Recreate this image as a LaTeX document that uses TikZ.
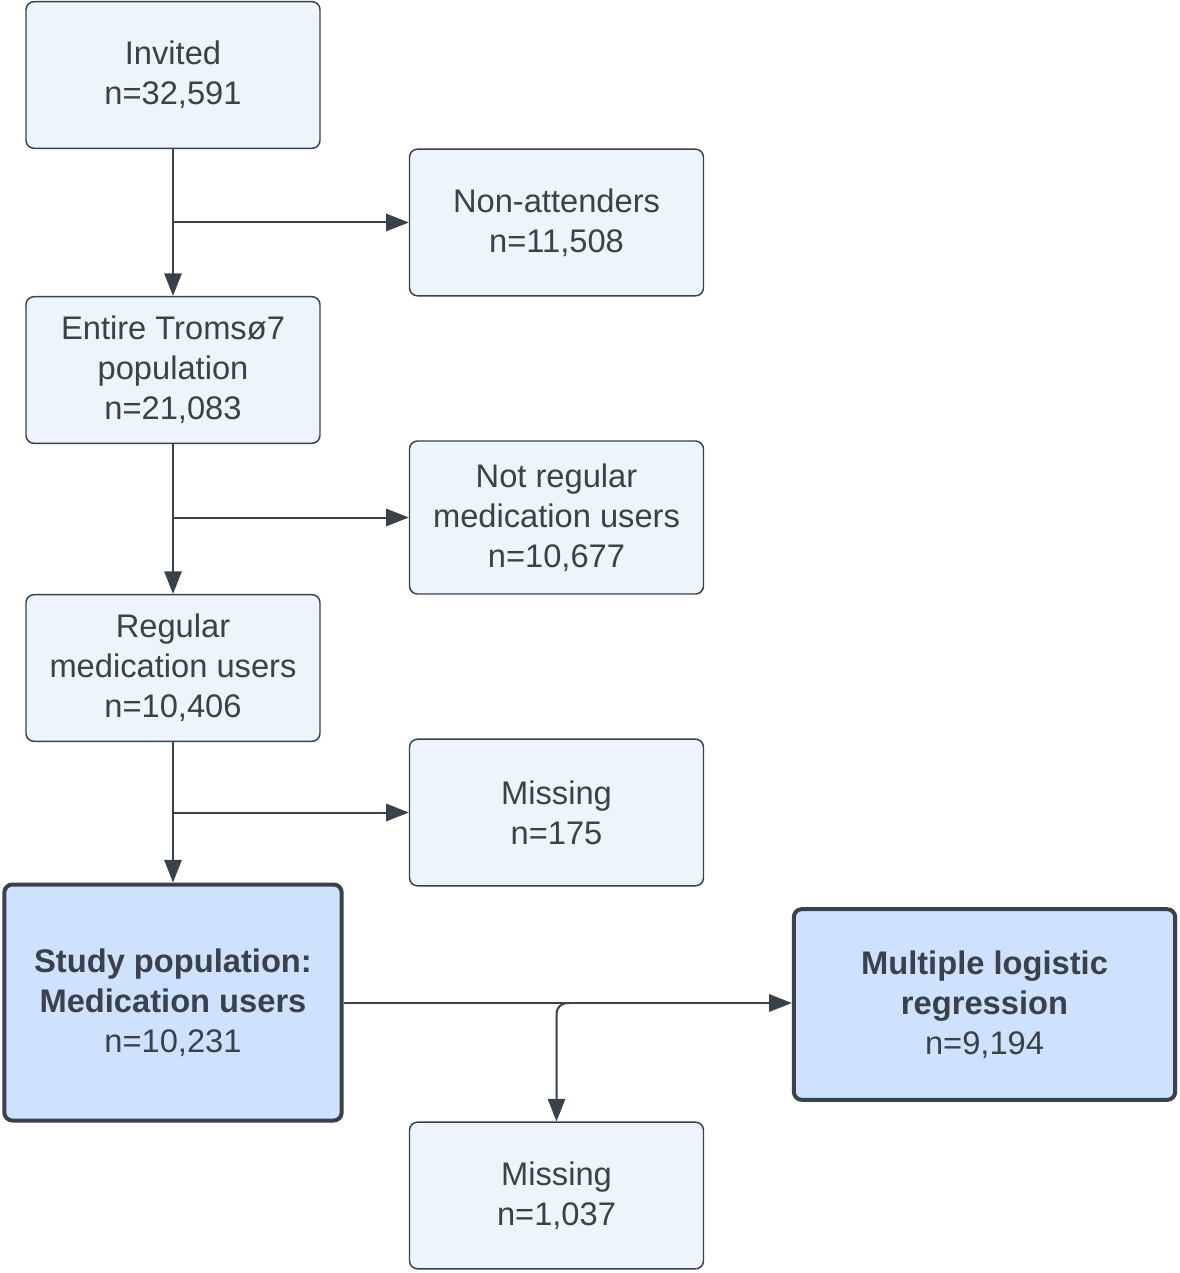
\documentclass[tikz,border=0pt]{standalone}
\usepackage{fontspec}
\setmainfont{Liberation Sans}
\usetikzlibrary{arrows.meta}
\definecolor{ink}{HTML}{3A414A}
\definecolor{boxfill}{HTML}{EEF4FD}
\definecolor{keyfill}{HTML}{CFE2FD}
\begin{document}
\begin{tikzpicture}[x=0.75pt,y=-0.75pt,
  box/.style={draw=ink,fill=boxfill,line width=1.1pt,rounded corners=6pt,
    minimum width=220.5pt,minimum height=110pt,align=center,text=ink,
    font=\fontsize{24.5}{30}\selectfont,inner sep=0pt},
  keybox/.style={box,fill=keyfill,line width=3pt},
  conn/.style={draw=ink,line width=1.5pt,-{Triangle[length=17pt,width=13pt]}}]
\useasboundingbox (0,0) rectangle (1180,1273);
\node[box] (inv) at (173,75) {Invited\\n=32,591};
\node[box] (non) at (556.5,222.5) {Non-attenders\\n=11,508};
\node[box] (ent) at (173,370) {Entire Tromsø7\\population\\n=21,083};
\node[box,minimum height=114.75pt] (notreg) at (556.5,517.5) {Not regular\\medication users\\n=10,677};
\node[box] (reg) at (173,668) {Regular\\medication users\\n=10,406};
\node[box] (mis1) at (556.5,812.5) {Missing\\n=175};
\node[keybox,minimum width=253pt,minimum height=177pt] (study) at (173,1002.5) {\textbf{Study population:}\\\textbf{Medication users}\\n=10,231};
\node[keybox,minimum width=286pt,minimum height=143pt] (mlr) at (984.5,1004.5) {\textbf{Multiple logistic}\\\textbf{regression}\\n=9,194};
\node[box] (mis2) at (556.5,1195.5) {Missing\\n=1,037};
\coordinate (b1) at (173,222.5);
\coordinate (b2) at (173,517.5);
\coordinate (b3) at (173,812.5);
\coordinate (b4) at (570,1003);
\draw[conn] (inv.south) -- (ent.north);
\draw[conn] (b1) -- (non.west |- b1);
\draw[conn] (ent.south) -- (reg.north);
\draw[conn] (b2) -- (notreg.west |- b2);
\draw[conn] (reg.south) -- (study.north);
\draw[conn] (b3) -- (mis1.west |- b3);
\draw[conn] (study.east |- b4) -- (mlr.west |- b4);
\draw[conn,rounded corners=8pt] (b4) -| (mis2.north);
\end{tikzpicture}
\end{document}
